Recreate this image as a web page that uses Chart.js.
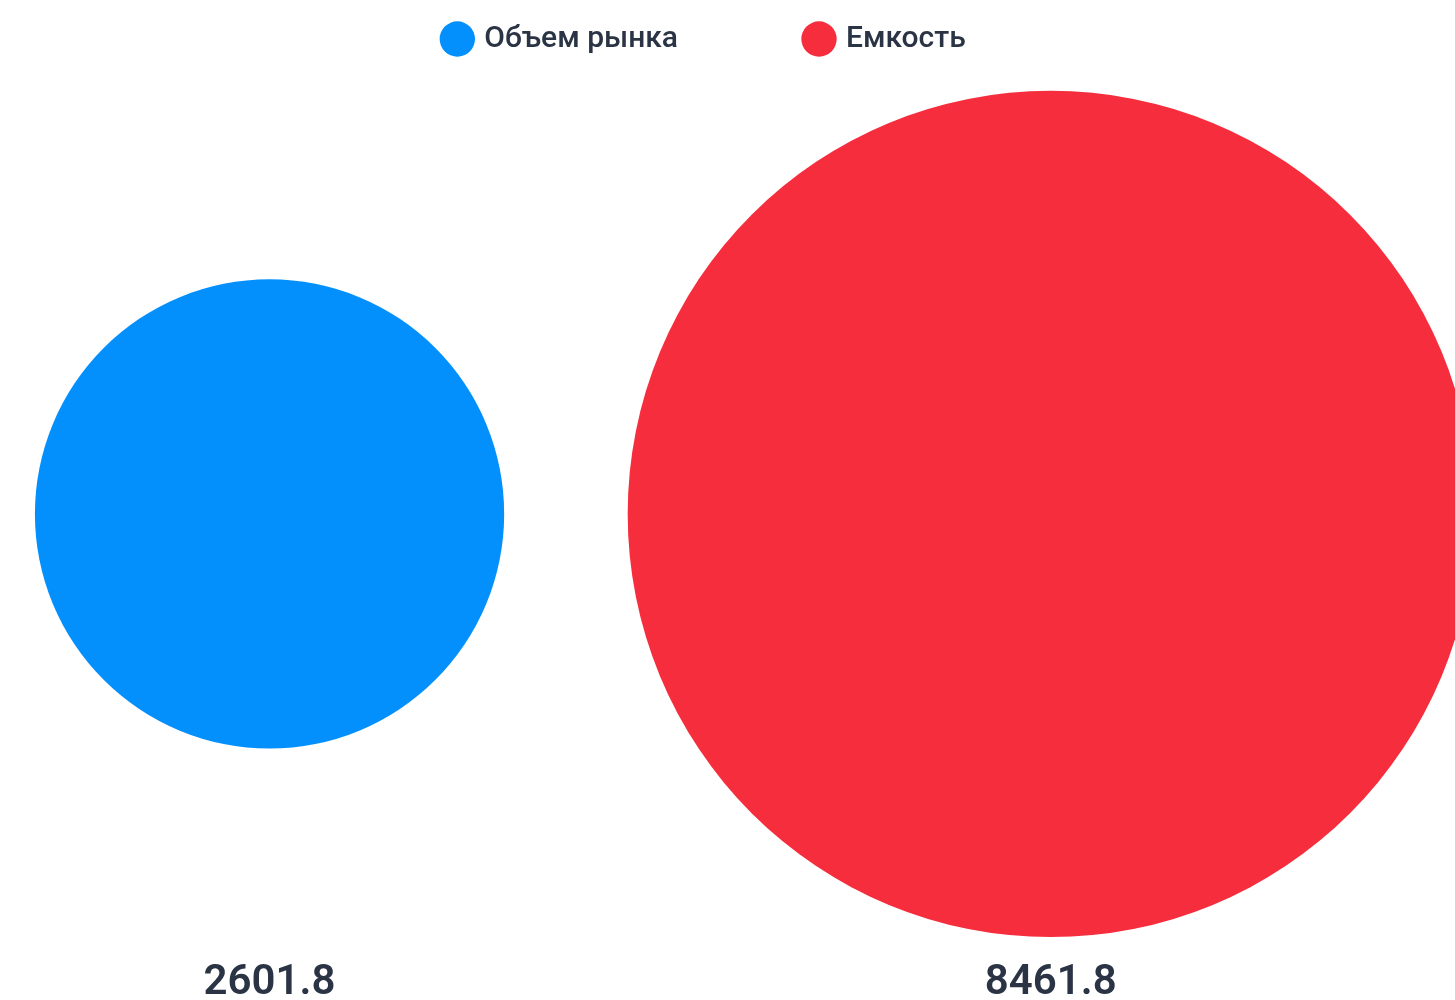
<!DOCTYPE html>
<html>
<head>
<meta charset="utf-8">
<script src="https://cdn.jsdelivr.net/npm/chart.js@4"></script>
<style>
    html, body { margin: 0; padding: 0; background: #ffffff; }
    #wrap { width: 1455px; height: 1000px; position: relative; }
</style>
</head>
<body>
<div id="wrap"><canvas id="bubbleChart"></canvas></div>
<script>
const seriesNames = ["Объем рынка", "Емкость"];
const seriesValues = [2601.8, 8461.8];
const seriesColors = ["#0390fd", "#f52d3c"];

document.addEventListener("DOMContentLoaded", function () {
    // bubble area ~ value
    const radiusScale = 4.6;

    new Chart(document.getElementById("bubbleChart"), {
        type: "bubble",
        data: {
            datasets: seriesNames.map((name, i) => ({
                label: name,
                data: [{ x: i, y: 0, r: Math.sqrt(seriesValues[i]) * radiusScale }],
                backgroundColor: seriesColors[i],
                borderWidth: 0,
                clip: false
            }))
        },
        options: {
            responsive: true,
            maintainAspectRatio: false,
            animation: false,
            layout: {
                autoPadding: false, // otherwise the big bubbles squeeze the chart area
                padding: { top: -105, right: 44, left: 0, bottom: 0 }
            },
            plugins: {
                tooltip: { enabled: false },
                legend: {
                    position: "top",
                    labels: {
                        usePointStyle: true,
                        pointStyle: "circle",
                        boxWidth: 24,
                        boxHeight: 25,
                        padding: 129,
                        color: "#2a3444",
                        font: { family: "Roboto", size: 30, weight: "500" }
                    }
                }
            },
            scales: {
                x: {
                    type: "linear",
                    min: -0.345,
                    max: 1.461,
                    afterBuildTicks: axis => { axis.ticks = seriesValues.map((v, i) => ({ value: i })); },
                    afterFit: axis => { axis.height = 52; },
                    ticks: {
                        color: "#2a3444",
                        padding: 2,
                        maxRotation: 0,
                        font: { family: "Roboto", size: 42, weight: "600" },
                        callback: v => seriesValues[v] !== undefined ? seriesValues[v].toFixed(1) : ""
                    },
                    grid: { display: false },
                    border: { display: false }
                },
                y: {
                    display: false,
                    min: -0.982,
                    max: 1.018
                }
            }
        }
    });
});
</script>
</body>
</html>
